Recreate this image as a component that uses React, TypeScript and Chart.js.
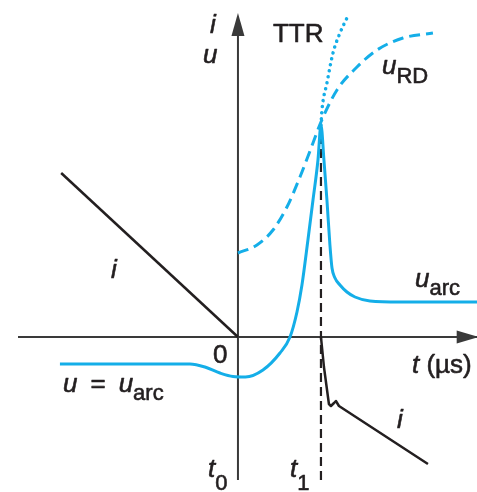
import React, { useEffect, useRef } from "react";
import { Chart, registerables } from "chart.js";

Chart.register(...registerables);

// Time axis: t0 = 0, t1 = 1 (µs, schematic). Values are arbitrary units.
const AXIS_T = [-2.65, 2.9];
const AXIS_U = [-1.43, 3.2];
const T1 = 1.0;
const T1_LINE_U = [-1.43, 2.12];

// current before current zero
const iBeforeT = [-2.13, 0];
const iBeforeV = [1.64, 0];

// current after t1 (post-arc current)
const iAfterT = [1.0, 1.036, 1.096, 1.12, 1.157, 1.18, 1.217, 2.289];
const iAfterV = [0, -0.3, -0.67, -0.69, -0.66, -0.64, -0.69, -1.27];

// voltage across the gap
const uT = [
  -2.145, -0.578, -0.398, -0.217, -0.06, 0.09, 0.301, 0.506, 0.627, 0.711,
  0.771, 0.843, 0.904, 0.964, 1.0, 1.036, 1.072, 1.108, 1.133, 1.169, 1.229,
  1.313, 1.41, 1.59, 1.95, 2.88,
];
const uV = [
  -0.27, -0.27, -0.3, -0.36, -0.395, -0.4, -0.33, -0.16, 0, 0.25, 0.52, 0.97,
  1.37, 1.77, 2.12, 1.77, 1.37, 0.92, 0.69, 0.59, 0.52, 0.45, 0.4, 0.36, 0.35,
  0.35,
];

// recovery (dielectric) voltage
const uRDT = [0, 0.229, 0.422, 0.59, 0.747, 0.904, 1.0, 1.193, 1.434, 1.675, 1.988, 2.349];
const uRDV = [0.84, 0.92, 1.07, 1.3, 1.6, 1.94, 2.15, 2.47, 2.7, 2.87, 2.99, 3.04];

// transient recovery voltage
const ttrT = [1.0, 1.012, 1.072, 1.145, 1.229, 1.313];
const ttrV = [2.12, 2.27, 2.54, 2.84, 3.04, 3.19];

const BLUE = "#14aee8";
const INK = "#231f20";
const AXIS = "#3a3a3a";

const FAMILY = '"Liberation Sans", Arial, Helvetica, sans-serif';
const IT = `italic 26px ${FAMILY}`;
const RM = `26px ${FAMILY}`;
const SUB = `22px ${FAMILY}`;

type Run = [string, string, number];
type Label = { x: number; y: number; runs: Run[] };

const LABELS: Label[] = [
  { x: -0.337, y: 3.04, runs: [["i", IT, 0]] },
  { x: -0.422, y: 2.74, runs: [["u", IT, 0]] },
  { x: 0.422, y: 2.95, runs: [["TTR", RM, 0]] },
  { x: 1.735, y: 2.63, runs: [["u", IT, 0], ["RD", SUB, 9]] },
  { x: -1.53, y: 0.59, runs: [["i", IT, 0]] },
  { x: 2.133, y: 0.5, runs: [["u", IT, 0], ["arc", SUB, 8]] },
  { x: -0.301, y: -0.26, runs: [["0", RM, 0]] },
  {
    x: -2.108,
    y: -0.55,
    runs: [["u", IT, 0], ["\u2002=\u2002", RM, 0], ["u", IT, 0], ["arc", SUB, 8]],
  },
  { x: -0.361, y: -1.4, runs: [["t", IT, 0], ["0", SUB, 13]] },
  { x: 0.627, y: -1.4, runs: [["t", IT, 0], ["1", SUB, 13]] },
  { x: 2.096, y: -0.36, runs: [["t", IT, 0], [" (µs)", RM, 0]] },
  { x: 1.916, y: -0.91, runs: [["i", IT, 0]] },
];

const pts = (t: number[], v: number[]) => t.map((x, k) => ({ x, y: v[k] }));

const decor = {
  id: "decor",
  beforeDraw(chart: any) {
    const { ctx, width, height } = chart;
    ctx.save();
    ctx.fillStyle = "#ffffff";
    ctx.fillRect(0, 0, width, height);
    ctx.restore();
  },
  afterDatasetsDraw(chart: any) {
    const { ctx } = chart;
    const xs = chart.scales.x;
    const ys = chart.scales.y;
    ctx.save();
    ctx.fillStyle = AXIS;
    // arrowhead on the vertical axis
    const vx = xs.getPixelForValue(0);
    const vy = ys.getPixelForValue(AXIS_U[1]) - 4;
    ctx.beginPath();
    ctx.moveTo(vx, vy);
    ctx.lineTo(vx - 6.5, vy + 23);
    ctx.lineTo(vx + 6.5, vy + 23);
    ctx.closePath();
    ctx.fill();
    // arrowhead on the time axis
    const hx = xs.getPixelForValue(AXIS_T[1]);
    const hy = ys.getPixelForValue(0);
    ctx.beginPath();
    ctx.moveTo(hx, hy);
    ctx.lineTo(hx - 22, hy - 6.5);
    ctx.lineTo(hx - 22, hy + 6.5);
    ctx.closePath();
    ctx.fill();

    // labels, slightly emboldened with a thin outline
    ctx.fillStyle = INK;
    ctx.strokeStyle = INK;
    ctx.lineWidth = 0.6;
    ctx.lineJoin = "round";
    ctx.textAlign = "left";
    ctx.textBaseline = "alphabetic";
    for (const lab of LABELS) {
      let px = xs.getPixelForValue(lab.x);
      const py = ys.getPixelForValue(lab.y);
      for (const [txt, font, dy] of lab.runs) {
        ctx.font = font;
        ctx.fillText(txt, px, py + dy);
        ctx.strokeText(txt, px, py + dy);
        px += ctx.measureText(txt).width;
      }
    }
    ctx.restore();
  },
};

export default function App() {
  const ref = useRef<HTMLCanvasElement | null>(null);

  useEffect(() => {
    if (!ref.current) return;
    const common = { pointRadius: 0, fill: false, borderCapStyle: "butt" as const };
    const chart = new Chart(ref.current, {
      type: "line",
      data: {
        datasets: [
          {
            ...common,
            label: "i (after t1)",
            data: pts(iAfterT, iAfterV),
            borderColor: INK,
            borderWidth: 2.5,
            tension: 0,
            borderJoinStyle: "round",
            order: 1,
          },
          {
            ...common,
            label: "i",
            data: pts(iBeforeT, iBeforeV),
            borderColor: INK,
            borderWidth: 2.5,
            tension: 0,
            order: 1,
          },
          {
            ...common,
            label: "u",
            data: pts(uT, uV),
            borderColor: BLUE,
            borderWidth: 3,
            cubicInterpolationMode: "monotone",
            order: 3,
          },
          {
            ...common,
            label: "uRD",
            data: pts(uRDT, uRDV),
            borderColor: BLUE,
            borderWidth: 3,
            borderDash: [11, 6],
            cubicInterpolationMode: "monotone",
            order: 4,
          },
          {
            ...common,
            label: "TTR",
            data: pts(ttrT, ttrV),
            borderColor: BLUE,
            borderWidth: 3.5,
            borderDash: [0.1, 6],
            borderCapStyle: "round",
            cubicInterpolationMode: "monotone",
            order: 4,
          },
          {
            ...common,
            label: "t1",
            data: [
              { x: T1, y: T1_LINE_U[0] },
              { x: T1, y: T1_LINE_U[1] },
            ],
            borderColor: INK,
            borderWidth: 2.2,
            borderDash: [9, 5],
            tension: 0,
            order: 6,
          },
          {
            ...common,
            label: "t axis",
            data: [
              { x: AXIS_T[0], y: 0 },
              { x: AXIS_T[1], y: 0 },
            ],
            borderColor: AXIS,
            borderWidth: 2,
            tension: 0,
            order: 8,
          },
          {
            ...common,
            label: "u axis",
            data: [
              { x: 0, y: AXIS_U[0] },
              { x: 0, y: AXIS_U[1] },
            ],
            borderColor: AXIS,
            borderWidth: 2,
            tension: 0,
            order: 8,
          },
        ],
      },
      options: {
        responsive: false,
        animation: false,
        devicePixelRatio: 1,
        layout: { padding: 0 },
        plugins: { legend: { display: false }, tooltip: { enabled: false } },
        events: [],
        scales: {
          x: { type: "linear", min: -2.867, max: 2.88, display: false },
          y: { type: "linear", min: -1.55, max: 3.37, display: false },
        },
      },
      plugins: [decor],
    });
    return () => chart.destroy();
  }, []);

  return (
    <div style={{ position: "absolute", left: 0, top: 0, width: 477, height: 492 }}>
      <canvas ref={ref} width={477} height={492} style={{ display: "block" }} />
    </div>
  );
}
